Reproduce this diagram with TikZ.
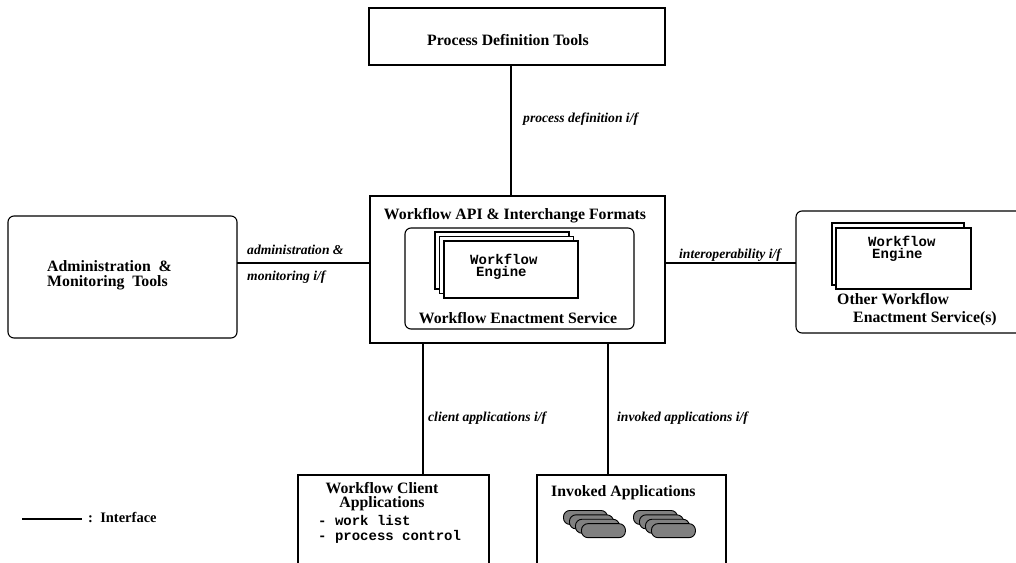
\documentclass[tikz,border=0pt]{standalone}
\usepackage{fontspec}
\setmainfont{Liberation Serif}
\setmonofont{Liberation Mono}
\begin{document}
\begin{tikzpicture}[x=1pt,y=-1pt,
  frame/.style={draw, line width=1.1pt, inner sep=0pt, outer sep=0pt, fill=white},
  rframe/.style={frame, rounded corners=6pt},
  wire/.style={line width=1.6pt},
  ttl/.style={font=\bfseries\fontsize{15.8}{14}\selectfont, inner sep=0pt},
  lbl/.style={font=\bfseries\itshape\fontsize{13.6}{14}\selectfont, inner sep=0pt, anchor=mid west},
  eng/.style={font=\ttfamily\bfseries\fontsize{14}{14}\selectfont, inner sep=0pt, anchor=mid west},
  pill/.style={draw, line width=0.9pt, fill=black!50, rounded corners=6.5pt,
    minimum width=44pt, minimum height=14pt, inner sep=0pt, anchor=north west},
]
\useasboundingbox (0,0) rectangle (1016,562);

% main boxes
\node[frame, minimum width=296pt, minimum height=57pt] (pdt) at (517,36.5) {};
\node[ttl] (pdtx) at (508,40) {Process Definition Tools};

\node[frame, minimum width=295pt, minimum height=147pt] (api) at (517.5,269.5) {};
\node[ttl] (apix) at (515,216) {Workflow API \& Interchange Formats};
\node[rframe, minimum width=229pt, minimum height=101pt] (wes) at (519.5,278.5) {};
\node[ttl] (wesx) at (518,318) {Workflow Enactment Service};

% stacked engines
\node[frame, minimum width=134pt, minimum height=57pt, anchor=north west] (e1) at (435,232) {};
\node[frame, minimum width=134pt, minimum height=57pt, anchor=north west] (e2) at (439.5,236.5) {};
\node[frame, minimum width=134pt, minimum height=57pt, anchor=north west] (e3) at (444,241) {};
\node[eng] (e3a) at (470,262) {Workflow};
\node[eng] (e3b) at (476,274) {Engine};

% administration
\node[rframe, minimum width=229pt, minimum height=122pt] (adm) at (122.5,277) {};
\node[ttl, anchor=mid west] (admA) at (47,269) {Administration\ \ \&};
\node[ttl, anchor=mid west] (admB) at (47,284) {Monitoring\ \ Tools};

% other enactment services
\node[rframe, minimum width=234pt, minimum height=122pt] (oth) at (913,272) {};
\node[frame, minimum width=132pt, minimum height=62pt, anchor=north west] (o1) at (832,223) {};
\node[frame, minimum width=135pt, minimum height=61pt, anchor=north west] (o2) at (836,228) {};
\node[eng] (o2a) at (868,244) {Workflow};
\node[eng] (o2b) at (872,256) {Engine};
\node[ttl, anchor=mid west] (othA) at (837,302) {Other Workflow};
\node[ttl, anchor=mid west] (othB) at (853,320) {Enactment Service(s)};

% client applications
\node[frame, minimum width=191pt, minimum height=105pt] (cli) at (393.5,527.5) {};
\node[ttl] (cliA) at (382,488) {Workflow Client};
\node[ttl] (cliB) at (382,503.5) {Applications};
\node[eng] (cliC) at (318,523) {- work list};
\node[eng] (cliD) at (318,538) {- process control};

% invoked applications
\node[frame, minimum width=189pt, minimum height=105pt] (inv) at (631.5,527.5) {};
\node[ttl, anchor=mid west] (invx) at (551,494) {Invoked Applications};
\foreach \i in {0,1,2,3} {
  \node[pill] (pa\i) at (563+6*\i,510+4.4*\i) {};
}
\foreach \i in {0,1,2,3} {
  \node[pill] (pb\i) at (633+6*\i,510+4.4*\i) {};
}

% interfaces
\coordinate (pdx) at (511,0);
\coordinate (clx) at (423,0);
\coordinate (ivx) at (608,0);
\coordinate (hy) at (0,263);
\draw[wire] (pdt.south -| pdx) -- (api.north -| pdx);
\draw[wire] (adm.east |- hy) -- (api.west |- hy);
\draw[wire] (api.east |- hy) -- (oth.west |- hy);
\draw[wire] (api.south -| clx) -- (cli.north -| clx);
\draw[wire] (api.south -| ivx) -- (inv.north -| ivx);

\node[lbl] (l1) at (523,120) {process definition i/f};
\node[lbl] (l2) at (247,252) {administration \&};
\node[lbl] (l3) at (247,278) {monitoring i/f};
\node[lbl] (l4) at (679,256) {interoperability i/f};
\node[lbl] (l5) at (428,419) {client applications i/f};
\node[lbl] (l6) at (617,419) {invoked applications i/f};

% legend
\coordinate (lgA) at (22,519);
\coordinate (lgB) at (82,519);
\draw[wire] (lgA) -- (lgB);
\node[ttl, anchor=mid west, font=\bfseries\fontsize{14.5}{14}\selectfont] (lgx) at (88,520) {:\ \ Interface};
\end{tikzpicture}
\end{document}
